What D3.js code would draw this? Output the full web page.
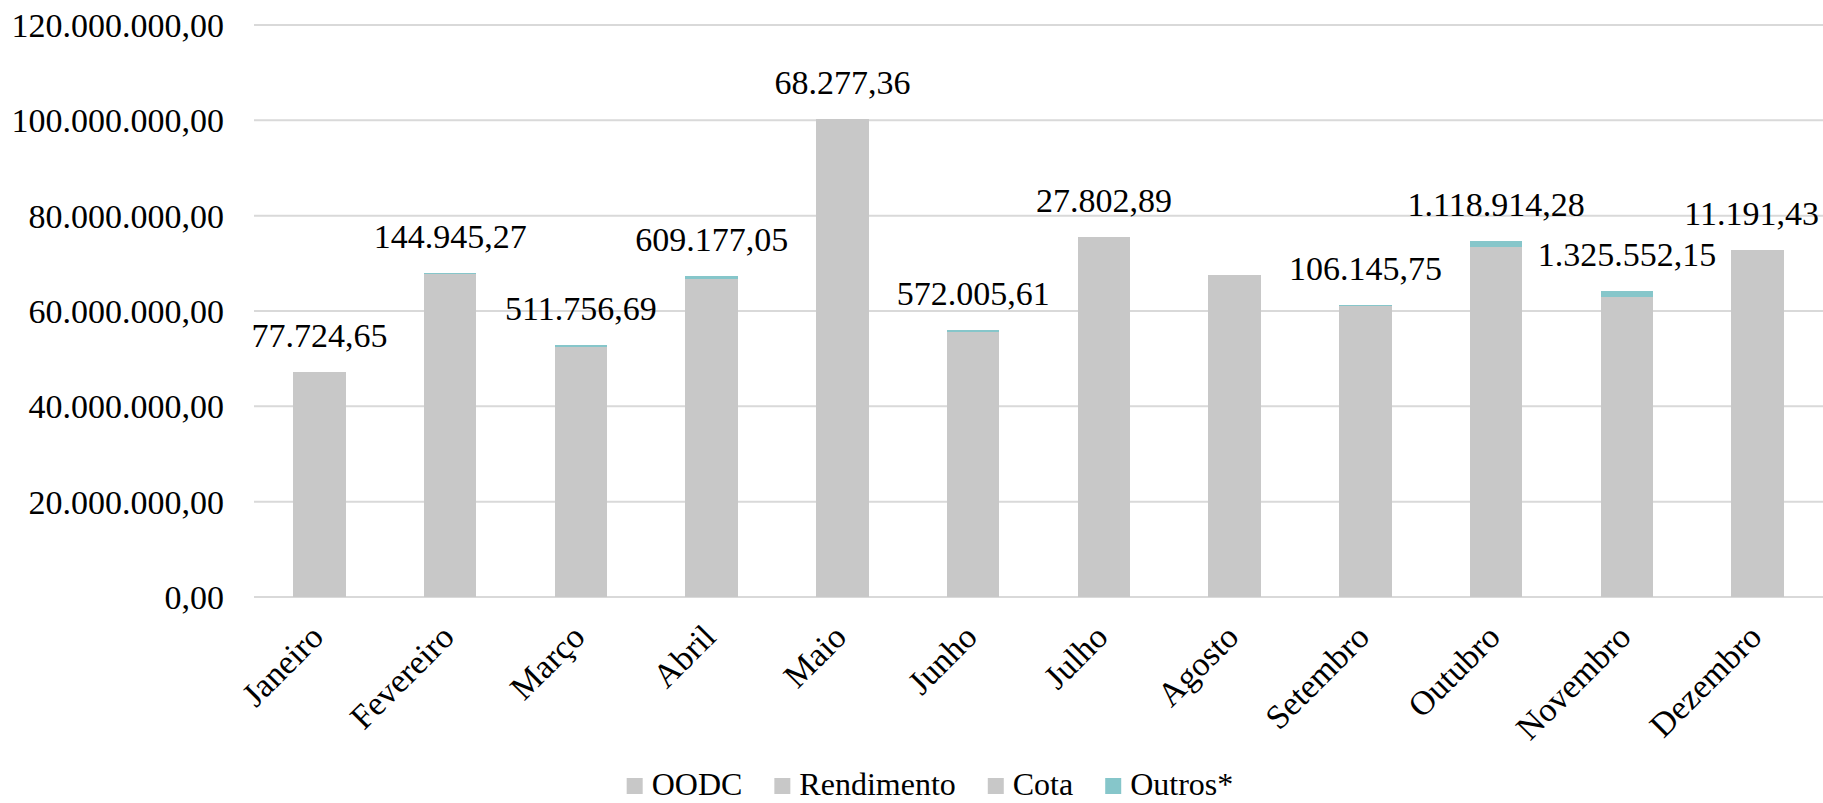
<!DOCTYPE html>
<html><head><meta charset="utf-8">
<script src="https://cdn.jsdelivr.net/npm/d3@7/dist/d3.min.js"></script>
<style>
html,body{margin:0;padding:0;background:#fff;}
svg{display:block;}
text{font-family:"Liberation Serif","DejaVu Serif",serif;fill:#000;}
</style></head>
<body>
<svg id="chart" width="1823" height="803"></svg>
<script>
const months = ["Janeiro","Fevereiro","Março","Abril","Maio","Junho","Julho","Agosto","Setembro","Outubro","Novembro","Dezembro"];
const seriesNames = ["OODC","Rendimento","Cota","Outros*"];
const oodc = [44670000,65020000,49860000,64130000,97160000,52950000,72660000,64860000,58450000,70570000,60250000,69890000];
const rendimento = [420000,380000,450000,400000,470000,430000,410000,440000,390000,460000,420000,400000];
const cota = [2100000,2350000,2050000,2200000,2600000,2150000,2400000,2300000,2250000,2450000,2200000,2500000];
const outros = [77724.65,144945.27,511756.69,609177.05,68277.36,572005.61,27802.89,0,106145.75,1118914.28,1325552.15,11191.43];
const yTicks = [0,20000000,40000000,60000000,80000000,100000000,120000000];
const colors = ["#C8C8C8","#C8C8C8","#C8C8C8","#86C6CA"];

(function(){
const locale = d3.formatLocale({decimal:",",thousands:".",grouping:[3],currency:["R$",""]});
const fmt = locale.format(",.2f");
const FF = "Liberation Serif";

const svg = d3.select("#chart");
const mLeft = 254, mRight = 1823, mTop = 25, mBottom = 597;
const FS = 34;

const x = d3.scaleBand().domain(months).range([mLeft,mRight]).paddingInner(0.6).paddingOuter(0.3);
const y = d3.scaleLinear().domain([0,120000000]).range([mBottom,mTop]);

svg.append("g").selectAll("line").data(yTicks).join("line")
  .attr("x1",mLeft).attr("x2",mRight)
  .attr("y1",d=>y(d)).attr("y2",d=>y(d))
  .attr("stroke","#D9D9D9").attr("stroke-width",2);

const yAxis = d3.axisLeft(y).tickValues(yTicks).tickSize(0).tickPadding(0).tickFormat(fmt);
const gy = svg.append("g").attr("transform",`translate(${mLeft-30},0)`).call(yAxis);
gy.select(".domain").remove();
gy.attr("font-family",FF);
gy.selectAll("text").attr("font-size",FS).attr("font-family",FF).attr("fill","#000").attr("dy","0.34em");

const table = months.map((m,i)=>({month:m,"OODC":oodc[i],"Rendimento":rendimento[i],"Cota":cota[i],"Outros*":outros[i]}));
const stacked = d3.stack().keys(seriesNames)(table);

svg.append("g").attr("shape-rendering","crispEdges").selectAll("g").data(stacked).join("g")
  .attr("fill",(d,i)=>colors[i])
  .selectAll("rect").data(d=>d).join("rect")
  .attr("x",d=>x(d.data.month))
  .attr("width",x.bandwidth())
  .attr("y",d=>y(d[1]))
  .attr("height",d=>Math.max(0,y(d[0])-y(d[1])));

const last = stacked[stacked.length-1];
svg.append("g").selectAll("text").data(last.filter(d=>d.data["Outros*"]>0)).join("text")
  .attr("x",d=>x(d.data.month)+x.bandwidth()/2)
  .attr("y",d=>y(d[1])-25)
  .attr("text-anchor","middle")
  .attr("font-family",FF)
  .attr("font-size",FS)
  .text(d=>fmt(d.data["Outros*"]))
  .each(function(){
    const w = this.getComputedTextLength();
    const cx = +this.getAttribute("x");
    if (cx + w/2 > 1819) this.setAttribute("x", 1819 - w/2);
  });

svg.append("g").selectAll("text").data(months).join("text")
  .attr("transform",d=>`translate(${x(d)+x.bandwidth()/2+6},${mBottom+42}) rotate(-45)`)
  .attr("text-anchor","end")
  .attr("font-family",FF)
  .attr("font-size",FS)
  .text(d=>d);

const lg = svg.append("g");
const items = lg.selectAll("g").data(seriesNames).join("g");
items.append("rect").attr("width",16).attr("height",16).attr("y",778).attr("fill",(d,i)=>colors[i]);
items.append("text").attr("x",25).attr("y",795).attr("font-family",FF).attr("font-size",32).text(d=>d);
const widths = [];
items.each(function(){ widths.push(25 + this.querySelector("text").getComputedTextLength()); });
const total = d3.sum(widths) + 32*(widths.length-1);
let startX = 930 - total/2;
items.attr("transform",(d,i)=>{ const tx = startX; startX += widths[i]+32; return `translate(${tx},0)`; });
})();
</script>
</body></html>
